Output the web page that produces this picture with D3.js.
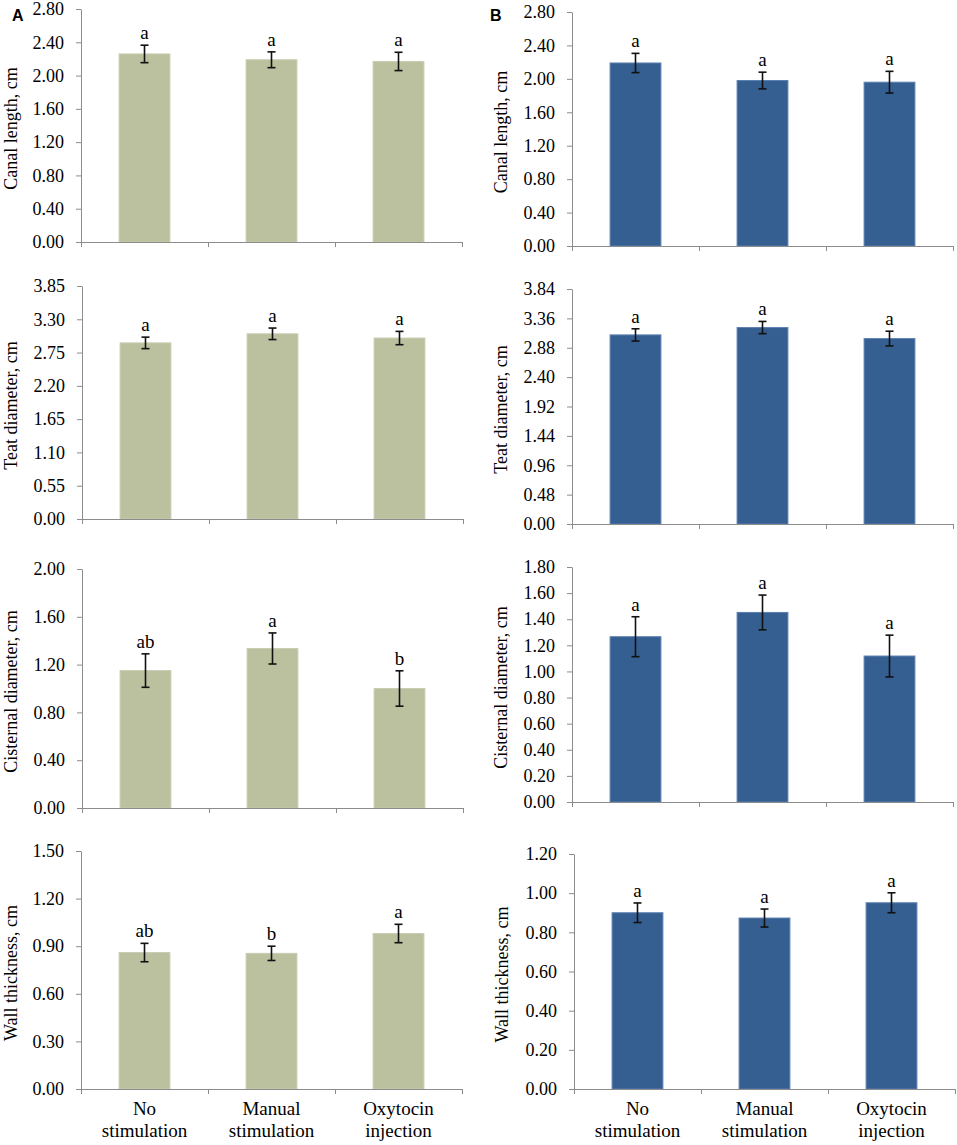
<!DOCTYPE html>
<html>
<head>
<meta charset="utf-8">
<script src="https://cdn.jsdelivr.net/npm/d3@7"></script>
<style>
  body { margin: 0; background: #fff; }
  svg { display: block; }
  .tick text, .lbl { font-family: "Liberation Serif", "Times New Roman", serif; fill: #000; }
</style>
</head>
<body>
<script>
var W = 957;
var H = 1145;

// categories on x
var categories = ["No stimulation", "Manual stimulation", "Oxytocin injection"];
var categoryLines = [["No", "stimulation"], ["Manual", "stimulation"], ["Oxytocin", "injection"]];

// column A (green)
var canalA = [2.26, 2.19, 2.17];
var canalA_se = [0.105, 0.095, 0.11];
var canalA_sig = ["a", "a", "a"];
var teatA = [2.91, 3.06, 2.99];
var teatA_se = [0.095, 0.095, 0.11];
var teatA_sig = ["a", "a", "a"];
var cisternA = [1.15, 1.335, 1.0];
var cisternA_se = [0.14, 0.13, 0.148];
var cisternA_sig = ["ab", "a", "b"];
var wallA = [0.86, 0.855, 0.98];
var wallA_se = [0.058, 0.045, 0.058];
var wallA_sig = ["ab", "b", "a"];

// column B (blue)
var canalB = [2.19, 1.98, 1.96];
var canalB_se = [0.115, 0.1, 0.13];
var canalB_sig = ["a", "a", "a"];
var teatB = [3.09, 3.21, 3.03];
var teatB_se = [0.1, 0.1, 0.12];
var teatB_sig = ["a", "a", "a"];
var cisternB = [1.266, 1.452, 1.118];
var cisternB_se = [0.153, 0.133, 0.16];
var cisternB_sig = ["a", "a", "a"];
var wallB = [0.90, 0.873, 0.951];
var wallB_se = [0.05, 0.046, 0.051];
var wallB_sig = ["a", "a", "a"];

// y tick labels
var ticksCanal = [0, 0.4, 0.8, 1.2, 1.6, 2.0, 2.4, 2.8];
var ticksTeatA = [0, 0.55, 1.1, 1.65, 2.2, 2.75, 3.3, 3.85];
var ticksTeatB = [0, 0.48, 0.96, 1.44, 1.92, 2.4, 2.88, 3.36, 3.84];
var ticksCisternA = [0, 0.4, 0.8, 1.2, 1.6, 2.0];
var ticksCisternB = [0, 0.2, 0.4, 0.6, 0.8, 1.0, 1.2, 1.4, 1.6, 1.8];
var ticksWallA = [0, 0.3, 0.6, 0.9, 1.2, 1.5];
var ticksWallB = [0, 0.2, 0.4, 0.6, 0.8, 1.0, 1.2];

var yLabels = ["Canal length, cm", "Teat diameter, cm", "Cisternal diameter, cm", "Wall thickness, cm"];

var green = { fill: "#bbc09f", stroke: "#c9cdb2" };
var blue = { fill: "#365f91", stroke: "#5b7fb0" };

// panel placement
var panels = [
  { values: canalA, se: canalA_se, sig: canalA_sig, ticks: ticksCanal, label: yLabels[0], x0: 81, top: 9, base: 242, labelX: 11, col: green },
  { values: teatA, se: teatA_se, sig: teatA_sig, ticks: ticksTeatA, label: yLabels[1], x0: 82, top: 286, base: 519, labelX: 11, col: green },
  { values: cisternA, se: cisternA_se, sig: cisternA_sig, ticks: ticksCisternA, label: yLabels[2], x0: 82, top: 569, base: 808, labelX: 11, col: green },
  { values: wallA, se: wallA_se, sig: wallA_sig, ticks: ticksWallA, label: yLabels[3], x0: 81, top: 851, base: 1089, labelX: 11, col: green, xlabels: true },
  { values: canalB, se: canalB_se, sig: canalB_sig, ticks: ticksCanal, label: yLabels[0], x0: 572, top: 12, base: 246, labelX: 501, col: blue },
  { values: teatB, se: teatB_se, sig: teatB_sig, ticks: ticksTeatB, label: yLabels[1], x0: 572, top: 289, base: 524, labelX: 501, col: blue },
  { values: cisternB, se: cisternB_se, sig: cisternB_sig, ticks: ticksCisternB, label: yLabels[2], x0: 572, top: 567, base: 802, labelX: 501, col: blue },
  { values: wallB, se: wallB_se, sig: wallB_sig, ticks: ticksWallB, label: yLabels[3], x0: 574, top: 854, base: 1089, labelX: 502, col: blue, xlabels: true }
];

var plotW = 381;
var fmt = d3.format(".2f");

var svg = d3.select("body")
    .append("svg")
    .attr("width", W)
    .attr("height", H);

panels.forEach(function(p) {
    var g = svg.append("g");

    var xScale = d3.scaleBand()
        .domain(categories)
        .range([p.x0, p.x0 + plotW])
        .paddingInner(0.6)
        .paddingOuter(0.3);

    var yScale = d3.scaleLinear()
        .domain([0, d3.max(p.ticks)])
        .range([p.base, p.top]);

    // y axis
    var yAxis = d3.axisLeft(yScale)
        .tickValues(p.ticks)
        .tickFormat(fmt)
        .tickSize(5)
        .tickSizeOuter(0)
        .tickPadding(12);

    var ya = g.append("g")
        .attr("transform", "translate(" + p.x0 + ",0)")
        .call(yAxis);
    ya.select(".domain").attr("stroke", "#8c8c8c");
    ya.selectAll(".tick line").attr("stroke", "#8c8c8c");
    ya.selectAll(".tick text")
        .attr("font-size", 18)
        .attr("font-family", null);

    // bars
    g.selectAll("rect.bar")
        .data(p.values)
        .enter()
        .append("rect")
        .attr("class", "bar")
        .attr("x", function(d, i) { return xScale(categories[i]); })
        .attr("y", function(d) { return yScale(d); })
        .attr("width", xScale.bandwidth())
        .attr("height", function(d) { return p.base - yScale(d); })
        .attr("fill", p.col.fill)
        .attr("stroke", p.col.stroke)
        .attr("stroke-width", 1);

    // x axis line + boundary ticks
    var step = xScale.step();
    g.append("line")
        .attr("x1", p.x0).attr("x2", p.x0 + plotW)
        .attr("y1", p.base + 0.5).attr("y2", p.base + 0.5)
        .attr("stroke", "#8c8c8c");
    g.selectAll("line.xtick")
        .data(d3.range(categories.length + 1))
        .enter()
        .append("line")
        .attr("class", "xtick")
        .attr("x1", function(i) { return p.x0 + i * step + 0.5; })
        .attr("x2", function(i) { return p.x0 + i * step + 0.5; })
        .attr("y1", p.base)
        .attr("y2", p.base + 5)
        .attr("stroke", "#8c8c8c");

    // error bars
    var cx = function(i) { return xScale(categories[i]) + xScale.bandwidth() / 2; };
    var eb = g.selectAll("g.err")
        .data(p.values)
        .enter()
        .append("g")
        .attr("class", "err")
        .attr("stroke", "#111")
        .attr("stroke-width", 1.6);
    eb.append("line")
        .attr("x1", function(d, i) { return cx(i); })
        .attr("x2", function(d, i) { return cx(i); })
        .attr("y1", function(d, i) { return yScale(d + p.se[i]); })
        .attr("y2", function(d, i) { return yScale(d - p.se[i]); });
    eb.append("line")
        .attr("x1", function(d, i) { return cx(i) - 4; })
        .attr("x2", function(d, i) { return cx(i) + 4; })
        .attr("y1", function(d, i) { return yScale(d + p.se[i]); })
        .attr("y2", function(d, i) { return yScale(d + p.se[i]); });
    eb.append("line")
        .attr("x1", function(d, i) { return cx(i) - 4; })
        .attr("x2", function(d, i) { return cx(i) + 4; })
        .attr("y1", function(d, i) { return yScale(d - p.se[i]); })
        .attr("y2", function(d, i) { return yScale(d - p.se[i]); });

    // significance letters
    g.selectAll("text.sig")
        .data(p.sig)
        .enter()
        .append("text")
        .attr("class", "lbl sig")
        .attr("x", function(d, i) { return cx(i); })
        .attr("y", function(d, i) { return yScale(p.values[i] + p.se[i]) - 6; })
        .attr("text-anchor", "middle")
        .attr("font-size", 19)
        .text(function(d) { return d; });

    // y axis title
    g.append("text")
        .attr("class", "lbl")
        .attr("transform", "translate(" + (p.labelX + 6) + "," + ((p.top + p.base) / 2 + 3) + ") rotate(-90)")
        .attr("text-anchor", "middle")
        .attr("font-size", 18)
        .text(p.label);

    // category labels under bottom panels
    if (p.xlabels) {
        categoryLines.forEach(function(lines, i) {
            var t = g.append("text")
                .attr("class", "lbl")
                .attr("text-anchor", "middle")
                .attr("font-size", 19);
            lines.forEach(function(s, k) {
                t.append("tspan")
                    .attr("x", cx(i))
                    .attr("y", p.base + 26 + k * 22)
                    .text(s);
            });
        });
    }
});

// panel letters
svg.append("text")
    .attr("x", 12).attr("y", 21)
    .attr("font-family", "Liberation Sans, Arial, sans-serif")
    .attr("font-weight", "bold")
    .attr("font-size", 16)
    .text("A");
svg.append("text")
    .attr("x", 490).attr("y", 21)
    .attr("font-family", "Liberation Sans, Arial, sans-serif")
    .attr("font-weight", "bold")
    .attr("font-size", 16)
    .text("B");
</script>
</body>
</html>
